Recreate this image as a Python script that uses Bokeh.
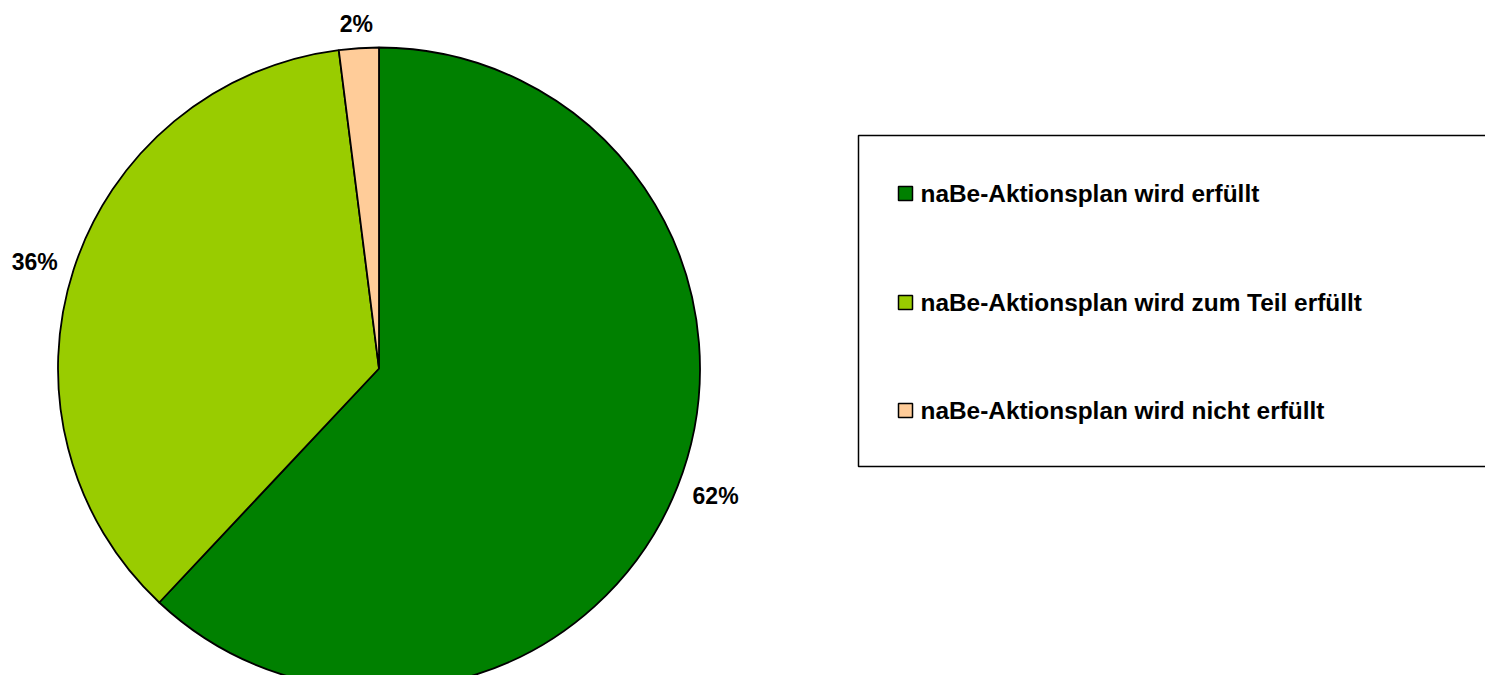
import math
import numpy as np
from bokeh.plotting import figure
from bokeh.models import ColumnDataSource, Range1d
from bokeh.core.properties import value
from bokeh.embed import file_html
from bokeh.resources import INLINE

# ---- data ----
categories = [
    "naBe-Aktionsplan wird erfüllt",
    "naBe-Aktionsplan wird zum Teil erfüllt",
    "naBe-Aktionsplan wird nicht erfüllt",
]
values = [62, 36, 2]
pct_labels = ["62%", "36%", "2%"]
colors = ["#008000", "#99CC00", "#FFCC99"]

# ---- layout (pixels of the figure, y measured from top) ----
W, H = 1485, 675
FONT = "Liberation Sans"


def sy(y_screen):
    return H - y_screen


cx, cy, R = 378.5, sy(368), 321

vals = np.array(values, dtype=float)
frac = vals / vals.sum()
cum_after = np.cumsum(frac)
cum_before = cum_after - frac
start = math.pi / 2 - 2 * math.pi * cum_before
end = math.pi / 2 - 2 * math.pi * cum_after
mid = (start + end) / 2

src = ColumnDataSource(dict(
    start=start, end=end, color=colors, cat=categories,
))

p = figure(width=W, height=H, output_backend="svg", toolbar_location=None,
           x_range=Range1d(0, W), y_range=Range1d(0, H),
           min_border=0)
p.axis.visible = False
p.grid.visible = False
p.outline_line_color = None
p.background_fill_color = "white"

p.wedge(x=cx, y=cy, radius=R, start_angle="start", end_angle="end",
        direction="clock", fill_color="color", line_color="black",
        line_width=1.8, source=src)

# percentage labels
Rx, Ry = 362, 345
lab_src = ColumnDataSource(dict(
    x=cx + Rx * np.cos(mid), y=cy + Ry * np.sin(mid), t=pct_labels,
))
p.text(x="x", y="y", text="t", source=lab_src, text_align="center",
       text_baseline="middle", text_font=value(FONT), text_font_style="bold",
       text_font_size="23px", text_color="black")

# legend box
p.quad(left=[858], right=[1700], top=[sy(135)], bottom=[sy(466)],
       fill_color="white", line_color="black", line_width=1.5)

row_y = [sy(193), sy(302), sy(410)]
leg_src = ColumnDataSource(dict(
    y=row_y, color=colors, cat=categories,
))
p.scatter(x=905, y="y", marker="square", size=14, fill_color="color",
          line_color="black", line_width=1.5, source=leg_src)
p.text(x=920, y="y", text="cat", source=leg_src, text_align="left",
       text_baseline="middle", text_font=value(FONT), text_font_style="bold",
       text_font_size="24.4px", text_color="black")

open("out.html", "w").write(file_html(p, INLINE))
